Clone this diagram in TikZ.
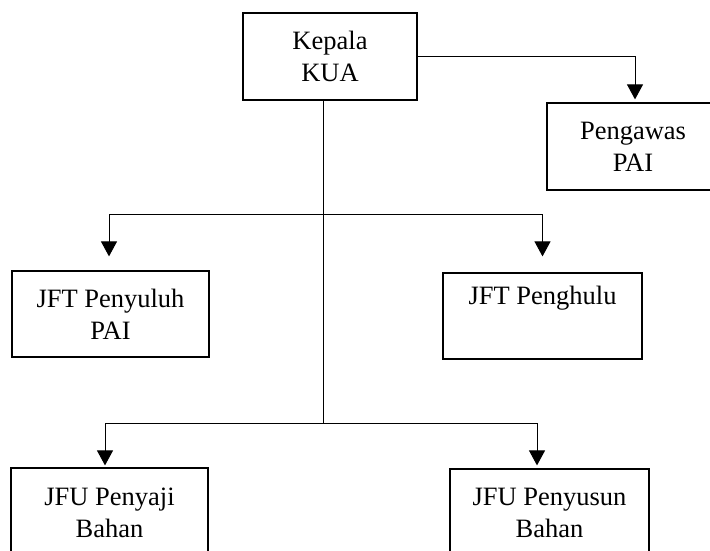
\documentclass[tikz,border=0pt]{standalone}
\usepackage{fontspec}
\setmainfont{Liberation Serif}
\usetikzlibrary{arrows.meta}

\begin{document}
\begin{tikzpicture}[x=0.5pt,y=-0.5pt,
    box/.style={draw,line width=0.6pt,align=center,inner sep=0pt,
      font={\fontsize{13.25}{16}\selectfont}},
    arr/.style={-{Triangle[width=8pt,length=7.5pt]},line width=0.5pt}]
        \clip (0,0) rectangle (710,550);

          \node[box,minimum width=87pt,minimum height=43.5pt] (kepala) at (330,56.5) {Kepala\\KUA};
          \node[box,minimum width=86pt,minimum height=43.5pt] (pengawas) at (633,146.5) {Pengawas\\PAI};
          \node[box,minimum width=98.5pt,minimum height=43pt] (penyuluh) at (110.5,314) {JFT Penyuluh\\PAI};
          \node[box,minimum width=99.5pt,minimum height=43pt] (penghulu) at (542.5,316) {JFT Penghulu\\\strut};
          \node[box,minimum width=98.5pt,minimum height=45pt] (penyaji) at (109.5,513) {JFU Penyaji\\Bahan};
          \node[box,minimum width=99.5pt,minimum height=44pt] (penyusun) at (549.5,513) {JFU Penyusun\\Bahan};

          \coordinate (barA) at (323,215);
          \coordinate (barB) at (323,423);

          \draw[line width=0.5pt] (kepala.south -| barB) -- (barB);
          \draw[arr,shorten >=1.5pt] (kepala.east) -| ([xshift=1pt]pengawas.north);

          \draw[arr,shorten >=7pt] (barA) -| ([xshift=-0.75pt]penyuluh.north);
          \draw[arr,shorten >=8pt] (barA) -| (penghulu.north);

          \draw[arr,shorten >=1pt] (barB) -| ([xshift=-2.25pt]penyaji.north);
          \draw[arr,shorten >=1.5pt] (barB) -| ([xshift=-6.25pt]penyusun.north);
        \end{tikzpicture}
\end{document}
